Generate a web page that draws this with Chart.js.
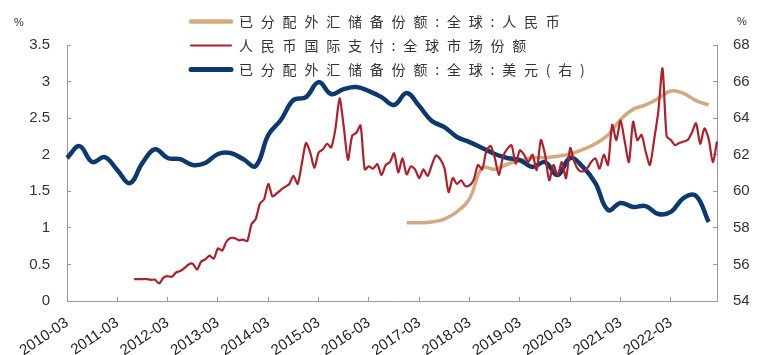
<!DOCTYPE html>
<html><head><meta charset="utf-8">
<script src="https://cdn.jsdelivr.net/npm/chart.js@4.4.1/dist/chart.umd.min.js"></script>
<style>html,body{margin:0;padding:0;background:#fff;}#wrap{width:768px;height:355px;}</style>
</head><body><div id="wrap"><canvas id="c" width="768" height="355"></canvas></div>
<script>
// ---- categories (monthly) ----
const firstMonth = '2010-03';
const lastMonth = '2023-02';
const xTickLabels = ['2010-03','2011-03','2012-03','2013-03','2014-03','2015-03','2016-03','2017-03','2018-03','2019-03','2020-03','2021-03','2022-03'];
const leftTicks = [0,0.5,1,1.5,2,2.5,3,3.5];
const rightTicks = [54,56,58,60,62,64,66,68];

// ---- series names ----
const nameCnyReserve = '已分配外汇储备份额:全球:人民币';
const nameCnyPayment = '人民币国际支付:全球市场份额';
const nameUsdReserve = '已分配外汇储备份额:全球:美元(右)';

// ---- quarterly: USD share of allocated reserves (right axis), from 2010-03 every 3 months ----
const usdStart = '2010-03';
const usdShare = [61.82,62.47,61.60,61.87,61.16,60.45,61.55,62.30,61.82,61.76,
                  61.44,61.55,62.04,62.09,61.76,61.38,63.08,63.90,64.99,65.15,
                  65.97,65.32,65.59,65.70,65.48,65.15,64.72,65.37,64.66,63.84,
                  63.51,62.97,62.69,62.37,62.04,61.82,61.71,61.33,61.60,60.89,
                  61.82,61.33,60.45,58.98,59.36,59.14,59.19,58.76,58.87,59.63,
                  59.75,58.32];

// ---- quarterly: CNY share of allocated reserves (left axis), from 2016-12 ----
const cnyReserveStart = '2016-12';
const cnyReserveShare = [1.07,1.07,1.08,1.12,1.22,1.40,1.82,1.80,1.87,1.92,
                         1.96,1.96,1.98,2.01,2.07,2.15,2.27,2.48,2.62,2.68,
                         2.77,2.87,2.84,2.74,2.68];

// ---- monthly: CNY share of international payments (left axis), from 2011-07 ----
const cnyPaymentStart = '2011-07';
const cnyPaymentShare = [0.30,0.30,0.30,0.30,0.29,0.29,0.24,0.32,0.34,0.33,
                         0.39,0.41,0.45,0.50,0.51,0.43,0.54,0.57,0.62,0.58,
                         0.72,0.69,0.81,0.86,0.86,0.83,0.84,0.82,1.05,1.12,
                         1.33,1.39,1.60,1.43,1.47,1.52,1.56,1.60,1.71,1.60,
                         1.88,2.16,2.03,1.82,2.03,2.07,2.15,2.10,2.35,2.77,
                         2.38,1.93,2.26,2.30,2.40,1.80,1.84,1.81,1.87,1.72,
                         1.86,1.90,2.02,1.76,1.95,1.73,1.84,1.80,1.68,1.80,
                         1.71,1.86,1.99,1.94,1.82,1.49,1.68,1.60,1.65,1.57,
                         1.58,1.66,1.86,1.80,2.05,2.12,1.96,1.72,1.98,2.08,
                         2.13,1.88,2.06,2.00,1.90,2.00,1.79,2.20,2.00,1.65,
                         1.86,1.72,1.90,1.68,2.09,1.90,1.79,1.77,1.81,1.90,
                         1.95,1.81,2.00,1.86,2.41,2.20,2.47,2.18,1.90,2.45,
                         2.20,2.27,2.04,1.86,2.20,2.59,3.18,2.25,2.20,2.13,
                         2.16,2.18,2.20,2.30,2.43,2.15,2.36,2.22,1.90,2.18];

// ---- build category list and point lists ----
const categories = [];
(function(){
  let y = +firstMonth.slice(0,4), m = +firstMonth.slice(5,7);
  while (true) {
    const s = y + '-' + String(m).padStart(2,'0');
    categories.push(s);
    if (s === lastMonth) break;
    m++; if (m > 12) { m = 1; y++; }
  }
})();
function toPoints(start, step, values){
  const i0 = categories.indexOf(start);
  return values.map((v,i)=>({x: categories[i0 + i*step], y: v}));
}

const FONT = '"Liberation Sans", Arial, sans-serif';
const legendPlugin = {
  id: 'cnLegend',
  afterDraw(chart){
    const ctx = chart.ctx;
    const ds = chart.data.datasets;
    const rowsY = [21.5, 45.5, 69.5];
    ctx.save();
    ds.forEach((d, row) => {
      const y = rowsY[row];
      ctx.strokeStyle = d.borderColor; ctx.lineWidth = d.legendWidth; ctx.lineCap = 'round';
      ctx.beginPath(); ctx.moveTo(191, y); ctx.lineTo(231, y); ctx.stroke();
      ctx.fillStyle = '#333';
      ctx.font = '14px "Noto Sans CJK SC", sans-serif';
      ctx.textBaseline = 'middle'; ctx.textAlign = 'left';
      if ('letterSpacing' in ctx) {
        ctx.letterSpacing = '7.8px';
        ctx.fillText(d.label, 239, y);
        ctx.letterSpacing = '0px';
      } else {
        let x = 239;
        for (const ch of d.label) { ctx.fillText(ch, x, y); x += ctx.measureText(ch).width + 7.8; }
      }
    });
    ctx.font = '11px ' + FONT; ctx.textAlign = 'center'; ctx.textBaseline = 'middle'; ctx.fillStyle = '#333';
    ctx.fillText('%', 19, 23);
    ctx.fillText('%', 742, 22);
    ctx.restore();
  }
};

new Chart(document.getElementById('c'), {
  type: 'line',
  data: {
    labels: categories,
    datasets: [
      { label: nameCnyReserve, data: toPoints(cnyReserveStart, 3, cnyReserveShare), yAxisID: 'y',
        borderColor: '#D3A97F', borderWidth: 3.5, legendWidth: 4.5, tension: 0.4, pointRadius: 0, order: 2 },
      { label: nameCnyPayment, data: toPoints(cnyPaymentStart, 1, cnyPaymentShare), yAxisID: 'y',
        borderColor: '#B0202A', borderWidth: 2.2, legendWidth: 2.2, tension: 0.25, pointRadius: 0, order: 0 },
      { label: nameUsdReserve, data: toPoints(usdStart, 3, usdShare), yAxisID: 'y1',
        borderColor: '#0C3A70', borderWidth: 4.5, legendWidth: 5, tension: 0.4, pointRadius: 0, order: 1 }
    ]
  },
  options: {
    responsive: false, animation: false, devicePixelRatio: 1,
    layout: { padding: { top: 45, left: 0, right: 0, bottom: 0 } },
    plugins: { legend: { display: false }, tooltip: { enabled: false } },
    scales: {
      x: {
        type: 'category', offset: false,
        grid: { drawOnChartArea: false, drawTicks: true, tickLength: -4, color: '#9a9a9a' },
        border: { display: true, color: '#9a9a9a', width: 1 },
        afterBuildTicks(s){ s.ticks = s.ticks.filter(t => xTickLabels.includes(categories[t.value])); },
        afterFit(s){ s.height = 54; },
        ticks: { autoSkip: false, minRotation: 34, maxRotation: 34, padding: 17,
                 color: '#222', font: { family: FONT, size: 15 } }
      },
      y: {
        position: 'left', min: 0, max: 3.5,
        afterBuildTicks(s){ s.ticks = leftTicks.map(v => ({value: v})); },
        afterFit(s){ s.width = 67; },
        grid: { drawOnChartArea: false, drawTicks: true, tickLength: -4, color: '#9a9a9a' },
        border: { display: true, color: '#9a9a9a', width: 1 },
        ticks: { padding: 21, color: '#333', font: { family: FONT, size: 15 }, callback: v => String(v) }
      },
      y1: {
        position: 'right', min: 54, max: 68,
        afterBuildTicks(s){ s.ticks = rightTicks.map(v => ({value: v})); },
        afterFit(s){ s.width = 51; },
        grid: { drawOnChartArea: false, drawTicks: true, tickLength: -4, color: '#9a9a9a' },
        border: { display: true, color: '#9a9a9a', width: 1 },
        ticks: { padding: 20, color: '#333', font: { family: FONT, size: 15 }, callback: v => String(v) }
      }
    }
  },
  plugins: [legendPlugin]
});
</script></body></html>
